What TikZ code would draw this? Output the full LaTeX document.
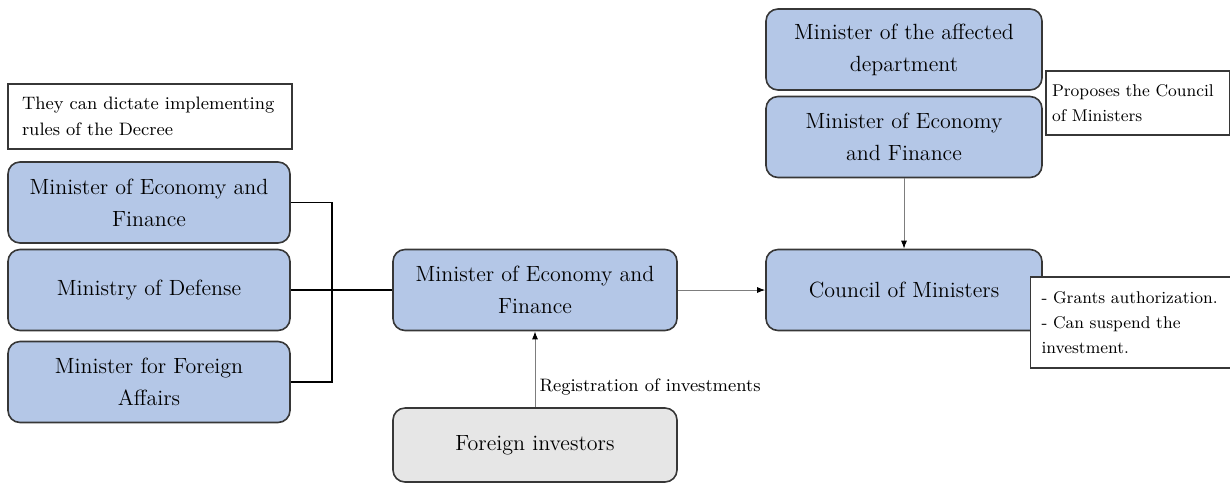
\documentclass[tikz,border=0pt]{standalone}
\usetikzlibrary{arrows.meta}
\usetikzlibrary{positioning}
\definecolor{bxblue}{RGB}{180, 199, 231}
\definecolor{bxgray}{RGB}{230, 230, 230}
\definecolor{bxline}{RGB}{55, 55, 55}
\definecolor{arrline}{RGB}{125, 125, 125}
\tikzset{box/.style = {draw = bxline, line width = 0.8pt, rounded corners = 6pt, align = center,
                       minimum width = 141pt, minimum height = 40.5pt, inner sep = 2pt,
                       font = \fontsize{11}{16}\selectfont}}
\tikzset{bluebox/.style = {box, fill = bxblue}}
\tikzset{graybox/.style = {box, fill = bxgray}}
\tikzset{notebox/.style = {draw = bxline, line width = 0.8pt, fill = white, align = left,
                           font = \fontsize{9}{13}\selectfont}}
\tikzset{sidenote/.style = {notebox, font = \fontsize{8.5}{12.5}\selectfont}}
\tikzset{bracket/.style = {draw = black, line width = 0.8pt}}
\tikzset{arrline/.style = {draw = arrline, line width = 0.5pt, -{Latex[length = 4pt, width = 3pt, color = black]}}}

\begin{document}
\begin{tikzpicture}[x = 0.5pt, y = -0.5pt]
      \useasboundingbox (0, 0) rectangle (1230, 484);

      % left column
      \node [notebox, text width = 128pt, inner xsep = 7pt, minimum height = 32.5pt] (noteLeft) at (150, 116.5)
            {They can dictate implementing\\ rules of the Decree};
      \node [bluebox] (mefLeft) at (149, 202.5) {Minister of Economy and\\ Finance};
      \node [bluebox] (defense) at (149, 290) {Ministry of Defense};
      \node [bluebox] (foreign) at (149, 382) {Minister for Foreign\\ Affairs};

      % center column
      \node [bluebox, minimum width = 142pt] (mefCenter) at (535, 290) {Minister of Economy and\\ Finance};
      \node [graybox, minimum width = 142pt, minimum height = 37pt] (investors) at (535, 445) {Foreign investors};

      % right column
      \node [bluebox, minimum width = 138pt] (affected) at (904, 49.5) {Minister of the affected\\ department};
      \node [bluebox, minimum width = 138pt] (mefRight) at (904, 137) {Minister of Economy\\ and Finance};
      \node [bluebox, minimum width = 138pt] (council) at (904, 290) {Council of Ministers};

      \node [sidenote, text width = 86pt, inner xsep = 3pt, minimum height = 32pt] (noteRight) at (1138, 103)
            {\mbox{Proposes the Council}\\ of Ministers};
      \node [sidenote, text width = 89pt, inner xsep = 5.5pt, minimum height = 45.5pt] (noteCouncil) at (1130.5, 322.5)
            {\mbox{- Grants authorization.}\\ - Can suspend the\\ investment.};

      % connectors
      \coordinate (bracketTop) at (332, 202.5);
      \coordinate (bracketBot) at (332, 382);
      \draw [bracket] (mefLeft.east) -- (bracketTop) -- (bracketBot) -- (foreign.east);
      \draw [bracket] (defense.east) -- (mefCenter.west);

      \draw [arrline] (mefCenter.east) -- (council.west);
      \draw [arrline] (investors.north) -- node [pos = 0.26, right, inner sep = 2pt,
            font = \fontsize{9}{13}\selectfont] (regLabel) {Registration of investments} (mefCenter.south);
      \draw [arrline] (mefRight.south) -- (council.north);
\end{tikzpicture}
\end{document}
